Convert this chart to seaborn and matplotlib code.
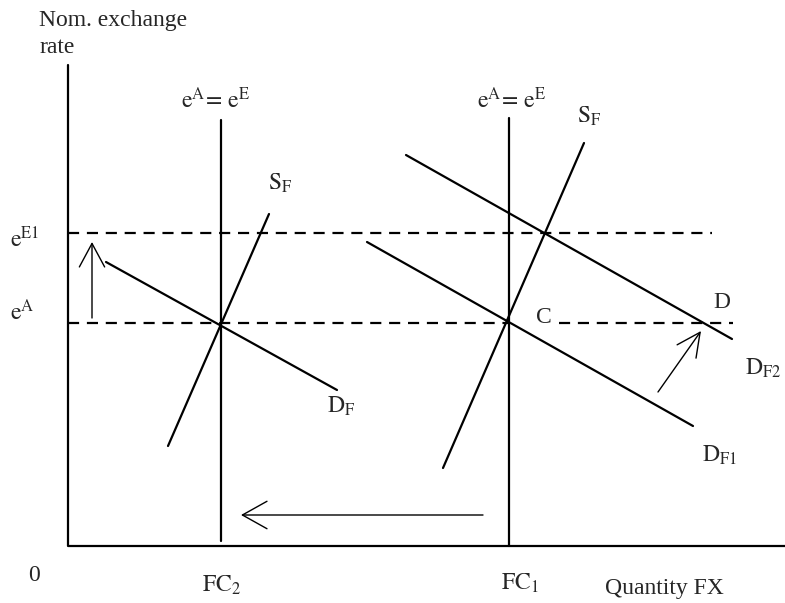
import pandas as pd
import seaborn as sns
import matplotlib.pyplot as plt

# Diagram geometry (pixel space, y grows downward)
axes_x = [68, 68, 785]
axes_y = [65, 546, 546]

vert_fc2_x = [221, 221]
vert_fc2_y = [120, 541]
vert_fc1_x = [509, 509]
vert_fc1_y = [118, 546]

sf_left_x = [168, 269]
sf_left_y = [446, 214]
df_left_x = [106, 337]
df_left_y = [262, 390]

sf_right_x = [443, 584]
sf_right_y = [468, 143]
df1_x = [367, 693]
df1_y = [242, 426]
df2_x = [406, 732]
df2_y = [155, 339]

dash_e1_x = [68, 712]
dash_e1_y = [233, 233]
dash_ea_x = [68, 509]
dash_ea_y = [323, 323]
dash_cd_x = [559, 733]
dash_cd_y = [323, 323]

# arrows: (tail_x, tail_y, head_x, head_y)
arrow_up = (92, 318, 92, 242)
arrow_left = (483, 515, 241, 515)
arrow_shift = (658, 392, 701, 331)

solid = [
    ("axes", axes_x, axes_y),
    ("fc2", vert_fc2_x, vert_fc2_y),
    ("fc1", vert_fc1_x, vert_fc1_y),
    ("sf_l", sf_left_x, sf_left_y),
    ("df_l", df_left_x, df_left_y),
    ("sf_r", sf_right_x, sf_right_y),
    ("df1", df1_x, df1_y),
    ("df2", df2_x, df2_y),
]
dashed = [
    ("e1", dash_e1_x, dash_e1_y),
    ("ea", dash_ea_x, dash_ea_y),
    ("cd", dash_cd_x, dash_cd_y),
]


def to_frame(segs):
    rows = []
    for name, xs, ys in segs:
        for x, y in zip(xs, ys):
            rows.append({"curve": name, "x": x, "y": y})
    return pd.DataFrame(rows)


sns.set_style("white")
plt.rcParams["font.family"] = ["Liberation Serif", "DejaVu Serif"]
plt.rcParams["mathtext.fontset"] = "stix"

fig = plt.figure(figsize=(7.85, 6.03), dpi=100)
ax = fig.add_axes([0, 0, 1, 1])

sns.lineplot(data=to_frame(solid), x="x", y="y", units="curve", estimator=None,
             sort=False, color="black", lw=1.6, ax=ax)
sns.lineplot(data=to_frame(dashed), x="x", y="y", units="curve", estimator=None,
             sort=False, color="black", lw=1.6, dashes=False, ax=ax,
             linestyle=(0, (5, 3.5)))

# open arrowheads, fairly wide like the original drawing
heads = {arrow_up: (0.65, 0.35), arrow_left: (0.68, 0.38), arrow_shift: (0.65, 0.32)}
for (tx, ty, hx, hy), (hl, hw) in heads.items():
    ax.annotate("", xy=(hx, hy), xytext=(tx, ty),
                arrowprops=dict(arrowstyle=f"->,head_length={hl},head_width={hw}",
                                color="black", lw=1.0, mutation_scale=26,
                                shrinkA=0, shrinkB=0))

fs = 17
ax.text(39, 26, "Nom. exchange", fontsize=fs, va="baseline")
ax.text(39, 53, "rate", fontsize=fs, va="baseline")
ax.text(10, 247, r"$\mathrm{e}^{\mathrm{E1}}$", fontsize=fs, va="baseline")
ax.text(10, 320, r"$\mathrm{e}^{\mathrm{A}}$", fontsize=fs, va="baseline")
ax.text(216, 108, r"$\mathrm{e}^{\mathrm{A}}\!=\,\mathrm{e}^{\mathrm{E}}$",
        fontsize=fs, ha="center", va="baseline")
ax.text(512, 108, r"$\mathrm{e}^{\mathrm{A}}\!=\,\mathrm{e}^{\mathrm{E}}$",
        fontsize=fs, ha="center", va="baseline")
ax.text(268, 190, r"$\mathrm{S}_{\mathrm{F}}$", fontsize=fs, va="baseline")
ax.text(577, 123, r"$\mathrm{S}_{\mathrm{F}}$", fontsize=fs, va="baseline")
ax.text(327, 413, r"$\mathrm{D}_{\mathrm{F}}$", fontsize=fs, va="baseline")
ax.text(536, 323, "C", fontsize=fs, va="baseline")
ax.text(713, 308, "D", fontsize=fs, va="baseline")
ax.text(745, 375, r"$\mathrm{D}_{\mathrm{F2}}$", fontsize=fs, va="baseline")
ax.text(702, 462, r"$\mathrm{D}_{\mathrm{F1}}$", fontsize=fs, va="baseline")
ax.text(28, 581, "0", fontsize=fs, va="baseline")
ax.text(222, 592, r"$\mathrm{FC}_{2}$", fontsize=fs, ha="center", va="baseline")
ax.text(520, 590, r"$\mathrm{FC}_{1}$", fontsize=fs, ha="center", va="baseline")
ax.text(605, 594, "Quantity FX", fontsize=fs, va="baseline")

ax.set_xlim(0, 785)
ax.set_ylim(603, 0)
ax.set_axis_off()
if ax.get_legend() is not None:
    ax.get_legend().remove()

fig.savefig("out.png", dpi=100, facecolor="white")
